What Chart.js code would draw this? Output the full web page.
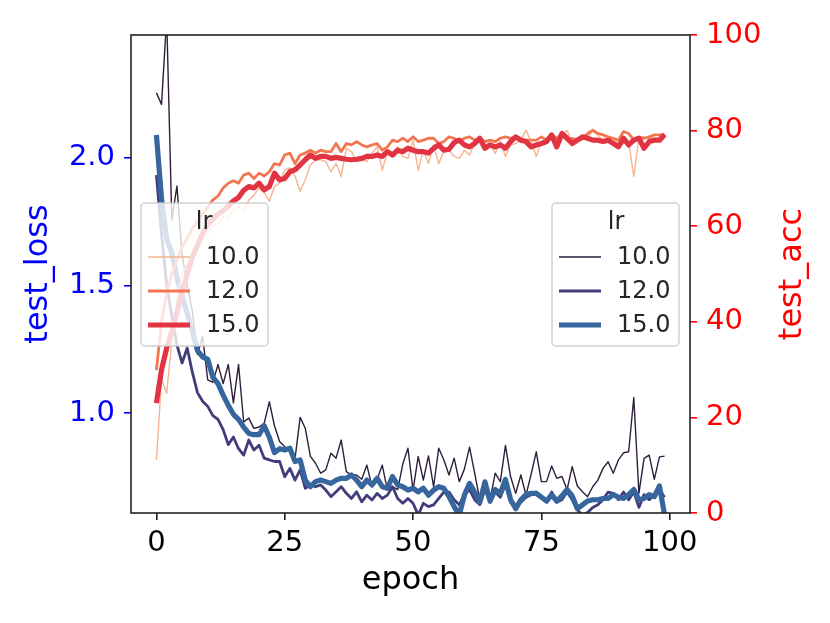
<!DOCTYPE html>
<html>
<head>
<meta charset="utf-8">
<script src="https://cdn.jsdelivr.net/npm/chart.js@4.4.0/dist/chart.umd.min.js"></script>
<style>
  html, body { margin: 0; padding: 0; background: #fff; }
  #wrap { width: 830px; height: 623px; }
</style>
</head>
<body>
<div id="wrap"><canvas id="chart" width="830" height="623"></canvas></div>
<script>
// epochs 0..99
const epochs = Array.from({ length: 100 }, (_, i) => i);

const lrLabels = ['10.0', '12.0', '15.0'];

const lossLr10 = [2.255, 2.21, 2.55, 1.757, 1.89, 1.62, 1.50, 1.40, 1.23, 1.30,
  1.13, 1.12, 1.19, 1.115, 1.19, 1.04, 1.19, 0.965, 0.98, 0.94,
  0.945, 0.96, 1.044, 0.95, 0.888, 0.868, 0.85, 0.82, 0.983, 0.94,
  0.83, 0.803, 0.764, 0.777, 0.842, 0.823, 0.894, 0.77, 0.757, 0.757,
  0.74, 0.796, 0.711, 0.74, 0.796, 0.698, 0.711, 0.70, 0.80, 0.862,
  0.698, 0.83, 0.737, 0.832, 0.711, 0.862, 0.816, 0.757, 0.823, 0.731,
  0.78, 0.866, 0.764, 0.66, 0.70, 0.66, 0.764, 0.731, 0.873, 0.75,
  0.685, 0.757, 0.678, 0.76, 0.848, 0.731, 0.731, 0.792, 0.744, 0.751,
  0.70, 0.79, 0.714, 0.691, 0.672, 0.711, 0.737, 0.783, 0.809, 0.764,
  0.816, 0.844, 0.848, 1.061, 0.685, 0.822, 0.835, 0.74, 0.828, 0.831];

const lossLr12 = [1.933, 1.70, 1.50, 1.38, 1.267, 1.196, 1.255, 1.16, 1.08, 1.046,
  1.026, 0.99, 0.975, 0.935, 0.876, 0.906, 0.86, 0.835, 0.894, 0.855,
  0.874, 0.823, 0.816, 0.81, 0.81, 0.75, 0.783, 0.737, 0.777, 0.705,
  0.718, 0.711, 0.718, 0.698, 0.672, 0.691, 0.711, 0.685, 0.665, 0.691,
  0.652, 0.678, 0.659, 0.685, 0.665, 0.678, 0.711, 0.665, 0.646, 0.665,
  0.646, 0.60, 0.646, 0.633, 0.64, 0.665, 0.69, 0.69, 0.66, 0.64,
  0.68, 0.70, 0.66, 0.64, 0.70, 0.65, 0.69, 0.67, 0.72, 0.65,
  0.63, 0.65, 0.67, 0.68, 0.69, 0.67, 0.65, 0.69, 0.65, 0.66,
  0.69, 0.66, 0.62, 0.60, 0.61, 0.63, 0.64, 0.66, 0.69, 0.685,
  0.66, 0.69, 0.66, 0.69, 0.63, 0.68, 0.66, 0.68, 0.70, 0.67];

const lossLr15 = [2.09, 1.84, 1.68, 1.63, 1.53, 1.46, 1.39, 1.32, 1.245, 1.22,
  1.21, 1.14, 1.115, 1.07, 1.03, 0.995, 0.975, 0.945, 0.92, 0.915,
  0.915, 0.95, 0.905, 0.845, 0.86, 0.855, 0.862, 0.81, 0.816, 0.737,
  0.711, 0.731, 0.737, 0.731, 0.724, 0.737, 0.744, 0.744, 0.757, 0.737,
  0.711, 0.737, 0.718, 0.744, 0.711, 0.705, 0.751, 0.718, 0.711, 0.698,
  0.705, 0.691, 0.705, 0.678, 0.698, 0.711, 0.705, 0.672, 0.633, 0.60,
  0.678, 0.724, 0.69, 0.65, 0.73, 0.655, 0.70, 0.685, 0.74, 0.66,
  0.625, 0.66, 0.68, 0.685, 0.685, 0.67, 0.655, 0.68, 0.655, 0.675,
  0.70, 0.675, 0.625, 0.64, 0.655, 0.66, 0.66, 0.665, 0.665, 0.68,
  0.67, 0.665, 0.68, 0.70, 0.66, 0.665, 0.68, 0.672, 0.714, 0.60];

const accLr10 = [11.1, 28, 25, 36, 45, 50, 52, 54.5, 56, 57.5,
  58.5, 60, 60.5, 62, 61.5, 63.5, 64, 63, 65.5, 66.5,
  68, 67, 65.2, 68.3, 69.0, 71.8, 72.2, 70.5, 67.3, 69.7,
  72.8, 73.9, 73.9, 73.5, 71.4, 73.1, 70.4, 76.3, 75.6, 73.5,
  73.9, 73.5, 75.3, 76.6, 71.7, 75.6, 75.3, 76.6, 74.6, 74.2,
  78.0, 71.7, 75.9, 73.1, 77.0, 73.1, 75.6, 75.9, 74.6, 74.2,
  75.9, 74.9, 77.3, 78.7, 77.0, 77.3, 75.2, 77.7, 74.6, 77.0,
  77.3, 78.0, 80.1, 77.7, 74.6, 77.7, 78.0, 78.4, 77.3, 79.1,
  80.1, 77.3, 77.7, 78.0, 78.7, 79.8, 79.1, 78.0, 78.4, 78.4,
  77.3, 77.3, 77.7, 70.4, 78.7, 78.7, 78.4, 78.4, 77.7, 78.4];

const accLr12 = [29.9, 40, 46, 50, 53, 55.5, 57.5, 59.5, 61, 62.5,
  64, 65.5, 66.3, 68, 69, 69.5, 69, 70.7, 71.1, 70,
  71.1, 70.5, 71.4, 73.1, 72.8, 74.9, 75.3, 73.1, 74.9, 75.3,
  75.9, 75.3, 75.9, 75.6, 75.6, 77.3, 75.6, 77.3, 77.0, 77.7,
  77.0, 76.6, 77.0, 77.3, 75.9, 76.6, 78.0, 77.7, 78.4, 77.7,
  78.7, 77.7, 78.0, 78.4, 78.4, 77.3, 77.7, 78.7, 78.4, 77.7,
  78.4, 78.7, 78.0, 78.4, 77.7, 78.0, 77.7, 78.4, 78.7, 78.4,
  78.7, 77.7, 78.0, 78.0, 78.0, 78.7, 78.0, 79.1, 78.4, 79.4,
  78.0, 78.4, 78.0, 78.4, 79.4, 80.1, 79.4, 79.1, 78.7, 78.4,
  78.0, 79.8, 79.4, 78.0, 78.4, 78.4, 78.7, 79.1, 79.1, 79.1];

const accLr15 = [23, 30, 34.5, 38, 42, 46, 50, 53.5, 56, 58.5,
  60.3, 61.5, 62.5, 63.2, 64.2, 65.3, 66, 67.5, 68.3, 68,
  69, 67.6, 68.3, 71.1, 69.7, 70.0, 71.4, 71.8, 72.8, 73.9,
  74.9, 74.2, 74.6, 74.6, 74.2, 74.4, 74.2, 74.0, 73.9, 74.0,
  74.2, 74.6, 74.6, 74.9, 74.6, 75.6, 74.9, 75.9, 75.6, 76.3,
  75.9, 75.6, 75.6, 75.3, 76.3, 77.0, 75.9, 76.1, 77.5, 78.0,
  77.0, 76.6, 77.3, 78.4, 76.3, 77.0, 76.6, 77.0, 76.3, 77.7,
  78.7, 78.0, 77.7, 76.6, 77.0, 77.3, 77.7, 79.1, 76.6, 79.4,
  78.4, 77.3, 78.0, 78.7, 78.4, 78.0, 78.0, 77.7, 78.0, 77.3,
  76.6, 78.4, 77.0, 78.0, 78.4, 76.3, 77.7, 78.0, 78.0, 79.2];

const xTicks = [0, 25, 50, 75, 100];
const lossTicks = [1.0, 1.5, 2.0];
const accTicks = [0, 20, 40, 60, 80, 100];

const lossColors = ['#2e1e3b', '#413d7b', '#37659e'];
const accColors = ['#f6b48f', '#f37651', '#e13342'];
const widths = [1.4, 2.8, 5.2];

const FONT = 'DejaVu Sans';

function pts(arr) {
  return epochs.map((e, i) => ({ x: e, y: arr[i] }));
}

function line(arr, color, w, axis, order) {
  return {
    data: pts(arr), yAxisID: axis, borderColor: color, borderWidth: w,
    pointRadius: 0, tension: 0, fill: false, clip: 0, order: order,
    borderJoinStyle: 'round', borderCapStyle: 'butt'
  };
}

const datasets = [
  line(accLr15, accColors[2], widths[2], 'yAcc', 1),
  line(accLr12, accColors[1], widths[1], 'yAcc', 2),
  line(accLr10, accColors[0], widths[0], 'yAcc', 3),
  line(lossLr15, lossColors[2], widths[2], 'yLoss', 4),
  line(lossLr12, lossColors[1], widths[1], 'yLoss', 5),
  line(lossLr10, lossColors[0], widths[0], 'yLoss', 6)
];

function drawLegend(ctx, box, titleX, colors) {
  ctx.save();
  ctx.beginPath();
  ctx.roundRect(box.x, box.y, box.w, box.h, 4);
  ctx.fillStyle = 'rgba(255,255,255,0.8)';
  ctx.fill();
  ctx.strokeStyle = 'rgba(204,204,204,0.9)';
  ctx.lineWidth = 1.5;
  ctx.stroke();
  ctx.fillStyle = '#262626';
  ctx.font = '24px "' + FONT + '"';
  ctx.textAlign = 'center';
  ctx.textBaseline = 'middle';
  ctx.fillText('lr', titleX, box.y + 20);
  ctx.textAlign = 'left';
  const rows = [box.y + 54, box.y + 88, box.y + 122];
  lrLabels.forEach((lab, i) => {
    ctx.beginPath();
    ctx.moveTo(box.x + 7, rows[i]);
    ctx.lineTo(box.x + 49, rows[i]);
    ctx.strokeStyle = colors[i];
    ctx.lineWidth = widths[i];
    ctx.lineCap = 'butt';
    ctx.stroke();
    ctx.fillText(lab, box.x + 65, rows[i] + 1);
  });
  ctx.restore();
}

const decor = {
  id: 'decor',
  afterDatasetsDraw(chart) {
    const ctx = chart.ctx;
    const a = chart.chartArea;
    ctx.save();
    ctx.strokeStyle = '#222';
    ctx.lineWidth = 1.6;
    ctx.strokeRect(a.left, a.top, a.right - a.left, a.bottom - a.top);
    ctx.restore();
    drawLegend(ctx, { x: 552, y: 203, w: 127, h: 143 }, 616, lossColors);
    drawLegend(ctx, { x: 141, y: 203, w: 127, h: 143 }, 204, accColors);
  },
  afterDraw(chart) {
    const ctx = chart.ctx;
    const a = chart.chartArea;
    const cy = (a.top + a.bottom) / 2;
    ctx.save();
    ctx.font = '32px "' + FONT + '"';
    ctx.textAlign = 'center';
    ctx.textBaseline = 'middle';
    ctx.fillStyle = '#000';
    ctx.fillText('epoch', (a.left + a.right) / 2, 581);
    ctx.translate(39, cy);
    ctx.rotate(-Math.PI / 2);
    ctx.fillStyle = 'blue';
    ctx.fillText('test_loss', 0, 0);
    ctx.restore();
    ctx.save();
    ctx.font = '32px "' + FONT + '"';
    ctx.textAlign = 'center';
    ctx.textBaseline = 'middle';
    ctx.translate(793, cy);
    ctx.rotate(-Math.PI / 2);
    ctx.fillStyle = 'red';
    ctx.fillText('test_acc', 0, 0);
    ctx.restore();
  }
};

new Chart(document.getElementById('chart'), {
  type: 'line',
  data: { datasets: datasets },
  options: {
    responsive: false,
    animation: false,
    layout: { padding: { top: 35, left: 0, right: 0, bottom: 0 } },
    plugins: { legend: { display: false }, tooltip: { enabled: false } },
    scales: {
      x: {
        type: 'linear', min: -4.95, max: 103.95,
        afterBuildTicks: s => { s.ticks = xTicks.map(v => ({ value: v })); },
        afterFit: s => { s.height = 110; },
        grid: { drawOnChartArea: false, drawTicks: true, tickLength: 7, lineWidth: 1.6, color: '#222' },
        border: { display: false },
        ticks: { font: { family: FONT, size: 29 }, color: '#000', padding: 6, maxRotation: 0, autoSkip: false }
      },
      yLoss: {
        type: 'linear', position: 'left', min: 0.608, max: 2.482,
        afterBuildTicks: s => { s.ticks = lossTicks.map(v => ({ value: v })); },
        afterFit: s => { s.width = 131; },
        grid: { drawOnChartArea: false, drawTicks: true, tickLength: 7, lineWidth: 1.6, color: 'blue' },
        border: { display: false },
        ticks: { font: { family: FONT, size: 29 }, color: 'blue', padding: 9, callback: v => v.toFixed(1) }
      },
      yAcc: {
        type: 'linear', position: 'right', min: 0, max: 100,
        afterBuildTicks: s => { s.ticks = accTicks.map(v => ({ value: v })); },
        afterFit: s => { s.width = 140; },
        grid: { drawOnChartArea: false, drawTicks: true, tickLength: 7, lineWidth: 1.6, color: 'red' },
        border: { display: false },
        ticks: { font: { family: FONT, size: 29 }, color: 'red', padding: 9 }
      }
    }
  },
  plugins: [decor]
});
</script>
</body>
</html>
